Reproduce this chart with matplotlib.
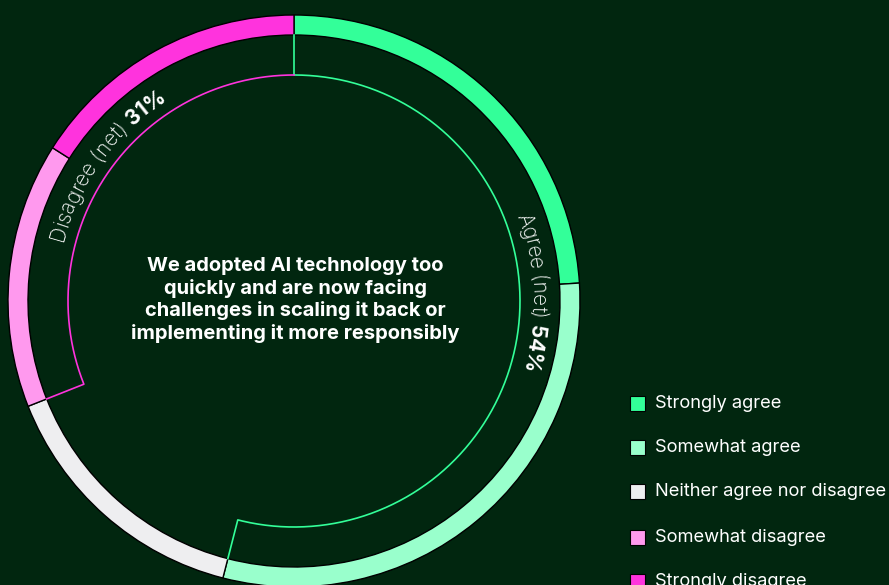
import numpy as np
import matplotlib.pyplot as plt
from matplotlib.patches import Wedge, Rectangle
from matplotlib.font_manager import FontProperties

plt.rcParams['font.family'] = ['Inter', 'DejaVu Sans']

# data
categories = ['Strongly agree', 'Somewhat agree', 'Neither agree nor disagree',
              'Somewhat disagree', 'Strongly disagree']
shares = [24, 30, 15, 15, 16]
colors = ['#33ff99', '#99ffcc', '#eeeef0', '#ff99ee', '#ff33dd']
agree_net = 54
disagree_net = 31
question = ("We adopted AI technology too\nquickly and are now facing\n"
            "challenges in scaling it back or\nimplementing it more responsibly")

W, H = 889, 585
bg = '#01260f'
fig = plt.figure(figsize=(W / 100, H / 100), dpi=100)
fig.patch.set_facecolor(bg)
ax = fig.add_axes([0, 0, 1, 1])
ax.set_facecolor(bg)
ax.set_xlim(0, W)
ax.set_ylim(0, H)
ax.axis('off')

cx, cy = 294, H - 301
r_out, r_in, r_arc, r_txt = 286, 266, 226, 244


def pt(theta, r):
    # theta in degrees, clockwise from 12 o'clock
    a = np.radians(90 - np.asarray(theta))
    return cx + r * np.cos(a), cy + r * np.sin(a)


# ring
start = 0
for s, c in zip(shares, colors):
    span = s / 100 * 360
    ax.add_patch(Wedge((cx, cy), r_out, 90 - start - span, 90 - start,
                       width=r_out - r_in, facecolor=c, edgecolor='black', lw=1))
    start += span

# net brackets
agree_end = agree_net / 100 * 360
t = np.linspace(0, agree_end, 300)
xs, ys = pt(t, r_arc)
x0, y0 = pt(0, r_in)
x1, y1 = pt(agree_end, r_in)
ax.plot(np.r_[x0, xs, x1], np.r_[y0, ys, y1], color='#33ff99', lw=1.2)

dis_start = 360 - disagree_net / 100 * 360
t = np.linspace(dis_start, 360, 300)
xs, ys = pt(t, r_arc)
x0, y0 = pt(dis_start, r_in)
ax.plot(np.r_[x0, xs], np.r_[y0, ys], color='#ff33dd', lw=1.2)

# curved labels
renderer = fig.canvas.get_renderer()


def text_width(s, fp):
    w1 = renderer.get_text_width_height_descent('|' + s + '|', fp, ismath=False)[0]
    w0 = renderer.get_text_width_height_descent('||', fp, ismath=False)[0]
    return w1 - w0


def arc_text(parts, theta_mid, r):
    total = sum(text_width(s, fp) for s, fp in parts)
    offset = -total / 2
    for s, fp in parts:
        for i, ch in enumerate(s):
            if ch == ' ':
                continue
            a = text_width(s[:i], fp)
            b = text_width(s[:i + 1], fp)
            d = offset + (a + b) / 2
            th = theta_mid + np.degrees(d / r)
            x, y = pt(th, r)
            ax.text(x, y, ch, fontproperties=fp, color='white',
                    rotation=-th, rotation_mode='anchor', ha='center', va='center')
        offset += text_width(s, fp)


fp_light = FontProperties(family=['Inter', 'DejaVu Sans'], weight='light', size=15)
fp_bold = FontProperties(family=['Inter', 'DejaVu Sans'], weight='bold', size=15)

arc_text([('Agree (net) ', fp_light), (f'{agree_net}%', fp_bold)], 88, r_txt)
arc_text([('Disagree (net) ', fp_light), (f'{disagree_net}%', fp_bold)], 306, r_txt)

# centre question
ax.text(cx + 1, H - 300, question, color='white', fontsize=14.5, fontweight='bold',
        ha='center', va='center', linespacing=1.25)

# legend
leg_y = [403, 447, 491, 537, 581]
for cat, c, yy in zip(categories, colors, leg_y):
    ax.add_patch(Rectangle((630, H - yy - 7.5), 15, 15, facecolor=c,
                           edgecolor='black', lw=0.8))
    ax.text(655, H - yy, cat, color='white', fontsize=13.2, ha='left', va='center')

fig.savefig('out.png', dpi=100, facecolor=bg)
